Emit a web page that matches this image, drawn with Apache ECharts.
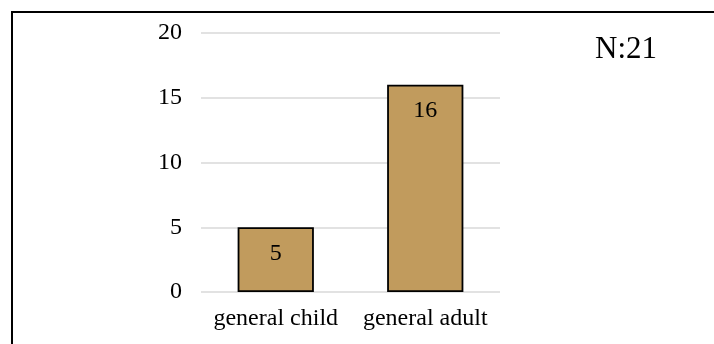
<!DOCTYPE html>
<html>
<head>
<meta charset="utf-8">
<script src="https://cdn.jsdelivr.net/npm/echarts@6/dist/echarts.min.js"></script>
<style>
html,body{margin:0;padding:0;background:#fff;overflow:hidden;}
#wrap{position:relative;width:714px;height:344px;overflow:hidden;}
#c{position:absolute;left:0;top:0;width:714px;height:344px;}
#frame{position:absolute;left:11px;top:11px;width:740px;height:360px;border:2px solid #000;box-sizing:border-box;pointer-events:none;}
</style>
</head>
<body>
<div id="wrap"><div id="c"></div><div id="frame"></div></div>
<script>
var categories = ['general child', 'general adult'];
var values = [5, 16];
var yTicks = [0, 5, 10, 15, 20];
var note = 'N:21';

var chart = echarts.init(document.getElementById('c'));
var font = '"Liberation Serif", "Times New Roman", serif';
chart.setOption({
  animation: false,
  grid: {left: 201, right: 214, top: 33, bottom: 52},
  xAxis: {
    type: 'category',
    data: categories,
    axisLine: {show: false},
    axisTick: {show: false},
    axisLabel: {fontFamily: font, fontSize: 24, color: '#000', margin: 15, interval: 0}
  },
  yAxis: {
    type: 'value',
    min: yTicks[0],
    max: yTicks[yTicks.length - 1],
    interval: 5,
    axisLine: {show: false},
    axisTick: {show: false},
    splitLine: {lineStyle: {color: '#d9d9d9', width: 1.5}},
    axisLabel: {fontFamily: font, fontSize: 24, color: '#000', margin: 19}
  },
  series: [{
    type: 'bar',
    data: values,
    barWidth: '51%',
    itemStyle: {color: '#c19b5d', borderColor: '#000', borderWidth: 1.8},
    label: {show: true, position: 'insideTop', distance: 14, fontFamily: font, fontSize: 24, color: '#000'}
  }],
  graphic: [{
    type: 'text',
    left: 595,
    top: 34,
    style: {text: note, fontFamily: font, fontSize: 31, fill: '#000'}
  }]
});
</script>
</body>
</html>
